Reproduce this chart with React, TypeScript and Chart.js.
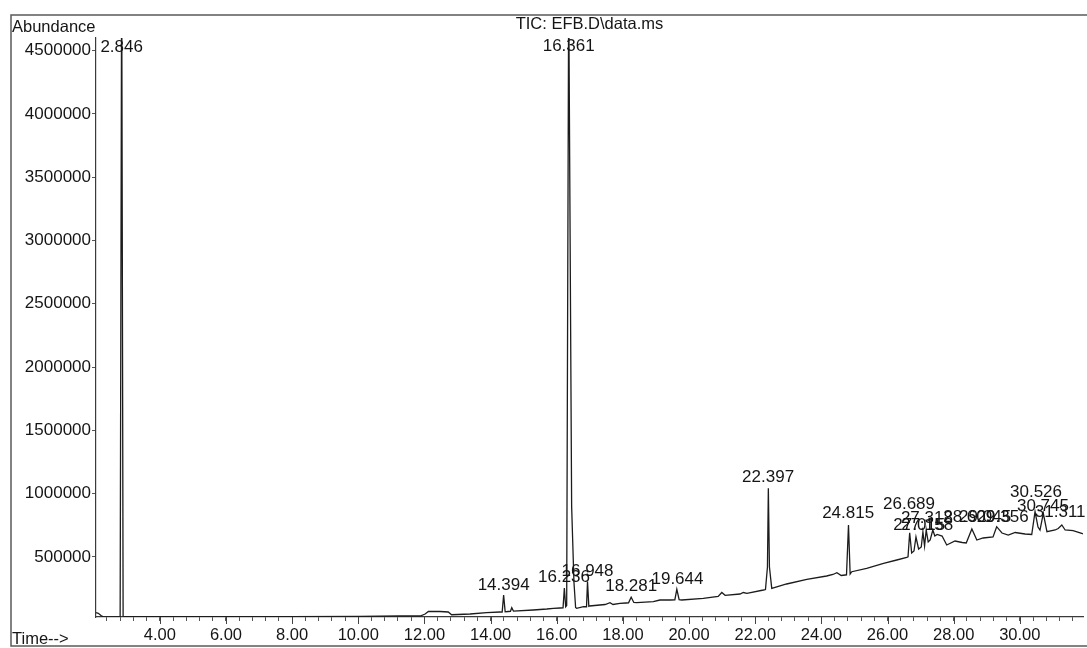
import React, { useEffect, useRef } from "react";
import { Chart, registerables } from "chart.js";

Chart.register(...registerables);

const FONT = "'Liberation Sans', Arial, Helvetica, sans-serif";

// Retention time (min) of each traced point of the TIC
const retentionTimes = [
  2.07, 2.14, 2.22, 2.29, 2.64, 2.8, 2.846, 2.89, 3.1, 5.21, 7.94, 10.05, 11.26, 11.87,
  12.02, 12.12, 12.47, 12.72, 12.82, 13.38, 13.88, 14.28, 14.35, 14.394, 14.44, 14.53,
  14.6, 14.64, 14.69, 15.29, 15.7, 15.9, 16.1, 16.19, 16.23, 16.27, 16.3, 16.361, 16.45,
  16.52, 16.57, 16.6, 16.81, 16.9, 16.93, 16.97, 16.99, 17.46, 17.61, 17.7, 17.91, 18.09,
  18.17, 18.25, 18.33, 18.42, 18.92, 19.12, 19.43, 19.57, 19.63, 19.7, 19.78, 20.43,
  20.88, 20.99, 21.09, 21.54, 21.64, 21.75, 22.25, 22.31, 22.37, 22.397, 22.43, 22.5,
  22.95, 23.56, 24.16, 24.35, 24.47, 24.6, 24.72, 24.76, 24.82, 24.87, 24.92, 25.37,
  25.88, 26.28, 26.58, 26.62, 26.67, 26.73, 26.8, 26.86, 26.94, 27.02, 27.07, 27.12,
  27.17, 27.23, 27.29, 27.37, 27.43, 27.5, 27.65, 27.79, 28.04, 28.26, 28.38, 28.55,
  28.7, 28.89, 29.19, 29.3, 29.46, 29.65, 29.86, 30.16, 30.36, 30.46, 30.55, 30.61,
  30.71, 30.82, 31.07, 31.16, 31.27, 31.37, 31.61, 31.87, 31.91,
];

// Abundance at each of those times
const abundances = [
  59000, 54000, 37000, 26000, 26000, 27000, 5200000, 28000, 27000, 27000, 28000, 30500,
  33000, 33000, 48700, 68500, 68500, 64500, 43000, 48700, 59000, 64500, 64000, 198800,
  66000, 68500, 70000, 98500, 72000, 80300, 88200, 93700, 96100, 97000, 254000, 105000,
  115000, 5000000, 900000, 300000, 100000, 93700, 106400, 106000, 305000, 110000, 112000,
  123800, 138000, 123800, 133200, 135600, 137000, 180700, 140000, 138000, 145900, 159300,
  159300, 160000, 243900, 162000, 159300, 172800, 187000, 218600, 196500, 206700, 218600,
  212300, 238400, 242000, 420000, 1042000, 420000, 251800, 285800, 322900, 349000, 360800,
  375000, 352900, 356900, 358000, 752000, 365000, 382900, 409800, 449300, 475400, 495100,
  500000, 691100, 530700, 546500, 657100, 562300, 578100, 696700, 586000, 712400, 617600,
  633400, 712400, 665000, 676900, 665000, 593900, 625500, 613700, 609700, 720300, 633400,
  649200, 657100, 738500, 688700, 672900, 692700, 680800, 676900, 857000, 736000, 712400,
  844400, 699000, 712400, 724300, 752000, 712400, 706900, 686400, 680800,
];

// Peak annotations: text, where it sits (time) and its level (abundance)
const peakLabels = [
  "2.846", "16.361", "14.394", "16.236", "16.948", "18.281", "19.644", "22.397", "24.815",
  "26.689", "27.318", "27.015", "27.158", "28.609", "29.045", "29.356", "30.526", "30.745",
  "31.311",
];
const peakLabelTimes = [
  2.846, 16.361, 14.394, 16.22, 16.93, 18.25, 19.65, 22.39, 24.81, 26.65, 27.19, 26.96,
  27.2, 28.47, 28.95, 29.48, 30.49, 30.7, 31.22,
];
const peakLabelLevels = [
  4525000, 4537000, 274000, 337000, 388500, 270000, 325000, 1127000, 847000, 918000,
  807000, 752000, 752000, 811000, 811000, 811000, 1008700, 896500, 850700,
];

const xMajorTicks = [4, 6, 8, 10, 12, 14, 16, 18, 20, 22, 24, 26, 28, 30];
const xTickLabels = [
  "4.00", "6.00", "8.00", "10.00", "12.00", "14.00", "16.00", "18.00", "20.00", "22.00",
  "24.00", "26.00", "28.00", "30.00",
];
const xMinorStep = 0.4;
const yTickValues = [500000, 1000000, 1500000, 2000000, 2500000, 3000000, 3500000, 4000000, 4500000];
const yTickLabels = ["500000", "1000000", "1500000", "2000000", "2500000", "3000000", "3500000", "4000000", "4500000"];

const titleText = "TIC: EFB.D\\data.ms";
const yAxisTitle = "Abundance";
const xAxisTitle = "Time-->";

const X_MIN = 2.07;
const X_MAX = 31.91;
const Y_MIN = 25000;
const Y_MAX = 4600000;

function majorIndex(v: number): number {
  return xMajorTicks.findIndex((m) => Math.abs(m - v) < 1e-6);
}

const decorPlugin = {
  id: "decor",
  afterDraw(chart: any) {
    const { ctx, chartArea, scales } = chart;
    const xs = scales.x;
    const ys = scales.y;
    const W = chart.width;
    const H = chart.height;
    ctx.save();
    // outer frame (left, top, bottom)
    ctx.strokeStyle = "#5a5a5a";
    ctx.lineWidth = 1.5;
    ctx.beginPath();
    ctx.moveTo(W, 15);
    ctx.lineTo(11, 15);
    ctx.lineTo(11, H - 2);
    ctx.lineTo(W, H - 2);
    ctx.stroke();

    // longer major ticks on the time axis
    ctx.strokeStyle = "#444";
    ctx.lineWidth = 1;
    ctx.beginPath();
    xMajorTicks.forEach((v) => {
      const px = Math.round(xs.getPixelForValue(v)) + 0.5;
      ctx.moveTo(px, chartArea.bottom);
      ctx.lineTo(px, chartArea.bottom + 7);
    });
    ctx.stroke();

    // texts
    ctx.fillStyle = "#151515";
    ctx.textBaseline = "middle";
    ctx.font = `16.5px ${FONT}`;
    ctx.textAlign = "center";
    ctx.fillText(titleText, (chartArea.left + chartArea.right) / 2, chartArea.top - 14);
    ctx.textAlign = "left";
    ctx.fillText(yAxisTitle, 12, chartArea.top - 10.5);
    ctx.fillText(xAxisTitle, 12, chartArea.bottom + 22);

    // peak labels
    ctx.font = `17px ${FONT}`;
    ctx.textAlign = "center";
    peakLabels.forEach((txt, i) => {
      ctx.fillText(txt, xs.getPixelForValue(peakLabelTimes[i]), ys.getPixelForValue(peakLabelLevels[i]));
    });
    ctx.restore();
  },
};

export default function App() {
  const canvasRef = useRef<HTMLCanvasElement | null>(null);

  useEffect(() => {
    if (!canvasRef.current) return;
    const points = retentionTimes.map((t, i) => ({ x: t, y: abundances[i] }));
    const chart = new Chart(canvasRef.current, {
      type: "line",
      data: {
        datasets: [
          {
            data: points,
            borderColor: "#1c1c1c",
            borderWidth: 1.3,
            pointRadius: 0,
            tension: 0,
            fill: false,
          },
        ],
      },
      options: {
        animation: false,
        responsive: false,
        devicePixelRatio: 1,
        layout: { padding: { top: 38, right: 4, left: 0, bottom: 0 } },
        plugins: {
          legend: { display: false },
          tooltip: { enabled: false },
          title: { display: false },
        },
        scales: {
          x: {
            type: "linear",
            min: X_MIN,
            max: X_MAX,
            afterBuildTicks: (axis: any) => {
              const vals: { value: number }[] = [];
              for (let k = Math.ceil(X_MIN / xMinorStep); k * xMinorStep <= X_MAX; k++) {
                vals.push({ value: +(k * xMinorStep).toFixed(1) });
              }
              axis.ticks = vals;
            },
            afterFit: (axis: any) => {
              axis.height = 31;
            },
            grid: {
              drawOnChartArea: false,
              drawTicks: true,
              tickLength: 4,
              tickColor: "#555",
              color: "#555",
            },
            border: { display: true, color: "#3a3a3a", width: 1.2 },
            ticks: {
              autoSkip: false,
              maxRotation: 0,
              minRotation: 0,
              padding: 5,
              color: "#151515",
              font: { family: FONT, size: 16.5 },
              callback: (value: any) => {
                const idx = majorIndex(Number(value));
                return idx >= 0 ? xTickLabels[idx] : "";
              },
            },
          },
          y: {
            type: "linear",
            min: Y_MIN,
            max: Y_MAX,
            afterBuildTicks: (axis: any) => {
              axis.ticks = yTickValues.map((v) => ({ value: v }));
            },
            afterFit: (axis: any) => {
              axis.width = 96;
            },
            grid: {
              drawOnChartArea: false,
              drawTicks: true,
              tickLength: 4,
              tickColor: "#555",
            },
            border: { display: true, color: "#3a3a3a", width: 1.2 },
            ticks: {
              padding: 1,
              color: "#151515",
              font: { family: FONT, size: 17 },
              callback: (value: any) => {
                const idx = yTickValues.indexOf(Number(value));
                return idx >= 0 ? yTickLabels[idx] : "";
              },
            },
          },
        },
      },
      plugins: [decorPlugin],
    } as any);
    return () => chart.destroy();
  }, []);

  return (
    <div style={{ position: "absolute", left: 0, top: 0, width: 1087, height: 648, background: "#fff" }}>
      <canvas ref={canvasRef} width={1087} height={648} style={{ display: "block", width: 1087, height: 648 }} />
    </div>
  );
}
